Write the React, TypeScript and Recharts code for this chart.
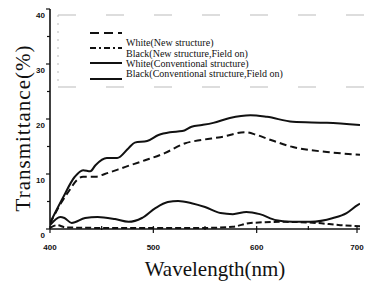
import React from "react";
import { LineChart, Line, XAxis, YAxis } from "recharts";

// White (Conventional structure) — upper solid
const wlWhiteConv = [400, 412, 424, 432, 439, 444, 455, 465, 476, 482, 494, 505, 516, 528, 537, 547, 558, 574, 594, 610, 635, 668, 700];
const tWhiteConv = [1.1, 5.5, 9.5, 10.7, 10.5, 11.6, 12.9, 12.9, 14.7, 15.7, 16.0, 17.1, 17.6, 17.8, 18.6, 18.9, 19.3, 20.2, 20.7, 20.4, 19.5, 19.3, 18.9];

// White (New structure) — upper dashed
const wlWhiteNew = [400, 410, 419, 426, 432, 444, 453, 473, 492, 511, 531, 547, 565, 589, 600, 612, 635, 668, 700];
const tWhiteNew = [1.0, 4.5, 7.1, 8.9, 9.5, 9.5, 10.0, 11.3, 12.5, 13.8, 15.6, 16.2, 16.7, 17.6, 17.1, 16.3, 14.9, 14.0, 13.5];

// Black (Conventional structure, Field on) — lower solid
const wlBlackConv = [400, 410, 414, 421, 434, 446, 463, 476, 489, 502, 514, 524, 537, 550, 565, 577, 590, 603, 619, 635, 652, 674, 687, 698, 700];
const tBlackConv = [0.7, 2.2, 2.0, 1.1, 2.0, 2.2, 1.8, 1.3, 2.0, 3.8, 4.9, 5.1, 4.7, 4.0, 2.9, 2.7, 3.1, 2.7, 1.6, 1.3, 1.3, 2.0, 2.9, 4.4, 4.6];

// Black (New structure, Field on) — lower dashed
const wlBlackNew = [400, 407, 415, 450, 500, 550, 577, 594, 626, 658, 681, 700];
const tBlackNew = [0.2, 0.7, 0.3, 0.2, 0.2, 0.2, 0.4, 1.1, 1.3, 1.1, 0.7, 0.5];

const xTicks = [400, 450, 500, 550, 600, 650, 700];
const xLabels = [400, 500, 600, 700];
const yTicks = [0, 5, 10, 15, 20, 25, 30, 35, 40];
const yLabels = [0, 10, 20, 30, 40];

const zip = (wl: number[], t: number[]) => wl.map((w, i) => ({ wl: w, t: t[i] }));

const series = [
  { name: "White(New structure)", data: zip(wlWhiteNew, tWhiteNew), dash: "7 4", legendDash: "9 5" },
  { name: "Black(New structure,Field on)", data: zip(wlBlackNew, tBlackNew), dash: "6 3", legendDash: "6 3 2 3" },
  { name: "White(Conventional structure)", data: zip(wlWhiteConv, tWhiteConv), dash: undefined, legendDash: undefined },
  { name: "Black(Conventional structure,Field on)", data: zip(wlBlackConv, tBlackConv), dash: undefined, legendDash: undefined },
];

const serif = "'Liberation Serif', 'DejaVu Serif', serif";
const sans = "'Liberation Sans', Arial, sans-serif";

const XTick = (props: any) => {
  const { x, y, payload } = props;
  const major = xLabels.includes(payload.value);
  return (
    <g>
      <line x1={x} x2={x} y1={y - 3} y2={major ? y + 4 : y + 1} stroke="#111" strokeWidth={1.2} />
      {major && (
        <text x={x} y={y + 21} textAnchor="middle" fontFamily={sans} fontWeight="bold" fontSize={8} fill="#111">
          {payload.value}
        </text>
      )}
    </g>
  );
};

const YTick = (props: any) => {
  const { x, y, payload } = props;
  const major = yLabels.includes(payload.value);
  return (
    <g>
      <line x1={major ? x - 4 : x - 3} x2={x} y1={y} y2={y} stroke="#111" strokeWidth={1.2} />
      {major && (
        <text x={x - 5} y={y + 9} textAnchor="end" fontFamily={sans} fontWeight="bold" fontSize={8} fill="#111">
          {payload.value}
        </text>
      )}
    </g>
  );
};

const legendRows = [
  { lineY: 33, textY: 46 },
  { lineY: 48, textY: 56.5 },
  { lineY: 63, textY: 66.5 },
  { lineY: 79, textY: 77 },
];

export default function App() {
  return (
    <div style={{ position: "absolute", left: 0, top: 0, width: 369, height: 287, background: "#fff" }}>
      <LineChart width={369} height={287} margin={{ top: 9, right: 9, bottom: 0, left: 0 }}>
        <XAxis
          dataKey="wl"
          type="number"
          domain={[400, 700]}
          ticks={xTicks}
          tick={XTick}
          tickLine={false}
          tickSize={0}
          tickMargin={0}
          height={58}
          allowDataOverflow
          axisLine={{ stroke: "#111", strokeWidth: 1.6 }}
          label={{
            content: () => (
              <text x={215} y={276} textAnchor="middle" fontFamily={serif} fontSize={21} fill="#111">
                Wavelength(nm)
              </text>
            ),
          }}
        />
        <YAxis
          type="number"
          domain={[0, 40]}
          ticks={yTicks}
          tick={YTick}
          tickLine={false}
          tickSize={0}
          tickMargin={0}
          width={50}
          allowDataOverflow
          axisLine={{ stroke: "#111", strokeWidth: 1.6 }}
          label={{
            content: () => (
              <text
                x={30}
                y={128}
                transform="rotate(-90, 30, 128)"
                textAnchor="middle"
                fontFamily={serif}
                fontSize={21}
                letterSpacing={1}
                fill="#111"
              >
                Transmittance(%)
              </text>
            ),
          }}
        />
        {series.map((s) => (
          <Line
            key={s.name}
            data={s.data}
            dataKey="t"
            name={s.name}
            type="monotone"
            stroke="#111"
            strokeWidth={2}
            strokeDasharray={s.dash}
            dot={false}
            isAnimationActive={false}
          />
        ))}
      </LineChart>
      <svg width={369} height={100} style={{ position: "absolute", left: 0, top: 0, pointerEvents: "none" }}>
        <path d="M58 15 H369 M58 87 H369" stroke="#bbb" strokeWidth={1} strokeDasharray="18 30" fill="none" />
        <path d="M58 15 V87" stroke="#bbb" strokeWidth={1} strokeDasharray="2 6" fill="none" />
        {series.map((s, i) => (
          <g key={s.name}>
            <line x1={90} x2={122} y1={legendRows[i].lineY} y2={legendRows[i].lineY} stroke="#111" strokeWidth={2} strokeDasharray={s.legendDash} />
            <text x={126} y={legendRows[i].textY} fontFamily={serif} fontSize={10} fill="#111">
              {s.name}
            </text>
          </g>
        ))}
      </svg>
    </div>
  );
}
